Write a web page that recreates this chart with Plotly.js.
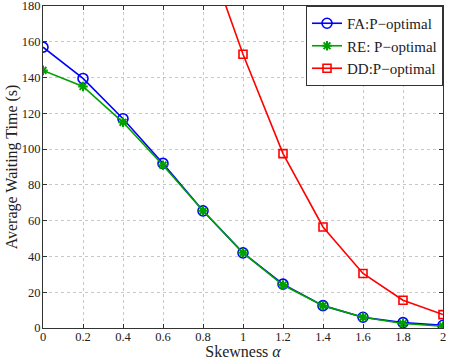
<!DOCTYPE html>
<html>
<head>
<meta charset="utf-8">
<script src="https://cdn.plot.ly/plotly-3.0.1.min.js"></script>
<style>
  html, body { margin: 0; padding: 0; background: #fff; }
  #chart { width: 450px; height: 360px; }
</style>
</head>
<body>
<div id="chart"></div>
<script>
// Skewness values on the x axis
const skew = [0, 0.2, 0.4, 0.6, 0.8, 1.0, 1.2, 1.4, 1.6, 1.8, 2.0];

// Average waiting time (s)
const faWait = [157, 139.5, 117, 92, 65.5, 42, 24.5, 12.5, 6, 3, 1.5];
const reWait = [144, 135, 115, 91, 65.5, 42, 24, 12.5, 6, 2.5, 1];

// DD only comes into view past x = 0.9, the 0.8 point is off the top
const ddSkew = [0.8, 1.0, 1.2, 1.4, 1.6, 1.8, 2.0];
const ddWait = [216, 153, 97.5, 56.5, 30.5, 15.5, 7.5];

const seriesNames = ['FA:P\u2212optimal', 'RE: P\u2212optimal', 'DD:P\u2212optimal'];

const xTicks = [0, 0.2, 0.4, 0.6, 0.8, 1, 1.2, 1.4, 1.6, 1.8, 2];
const yTicks = [0, 20, 40, 60, 80, 100, 120, 140, 160, 180];

const serif = '"Liberation Serif", "Times New Roman", serif';

const fa = {
    x: skew, y: faWait,
    type: 'scatter', mode: 'lines+markers',
    name: seriesNames[0],
    line: { color: '#0000ff', width: 1.6 },
    marker: { symbol: 'circle-open', size: 10, color: '#0000ff', line: { width: 1.6 } }
};

const re = {
    x: skew, y: reWait,
    type: 'scatter', mode: 'lines+markers',
    name: seriesNames[1],
    line: { color: '#00a000', width: 1.6 },
    marker: { symbol: 'asterisk-open', size: 8, color: '#00a000', line: { width: 2, color: '#00a000' } }
};

const dd = {
    x: ddSkew, y: ddWait,
    type: 'scatter', mode: 'lines+markers',
    name: seriesNames[2],
    line: { color: '#ff0000', width: 1.6 },
    marker: { symbol: 'square-open', size: 8, color: '#ff0000', line: { width: 1.6 } }
};

const axisCommon = {
    showline: true,
    linecolor: '#333',
    linewidth: 1,
    mirror: 'ticks',
    ticks: 'inside',
    ticklen: 4,
    tickcolor: '#333',
    showgrid: true,
    gridcolor: '#c8c8c8',
    griddash: 'dot',
    gridwidth: 1,
    zeroline: false,
    ticklabeloverflow: 'allow',
    tickfont: { family: serif, size: 12.5, color: '#222' }
};

const layout = {
    width: 450,
    height: 360,
    margin: { l: 43, r: 7, t: 6, b: 32 },
    paper_bgcolor: '#fff',
    plot_bgcolor: '#fff',
    font: { family: serif, color: '#222' },
    xaxis: Object.assign({}, axisCommon, {
        range: [0, 2],
        tickvals: xTicks,
        ticktext: xTicks.map(String),
        ticklabelstandoff: -3,
        title: { text: 'Skewness <i>\u03b1</i>', font: { family: serif, size: 16, color: '#222' }, standoff: 0 }
    }),
    yaxis: Object.assign({}, axisCommon, {
        range: [0, 180],
        tickvals: yTicks,
        ticklabelstandoff: -1,
        title: { text: 'Average Waiting Time (s)', font: { family: serif, size: 16, color: '#222' }, standoff: 0 }
    }),
    legend: {
        x: 1, y: 1,
        xanchor: 'right', yanchor: 'top',
        bgcolor: '#fff',
        bordercolor: '#333',
        borderwidth: 1,
        font: { family: serif, size: 15, color: '#222' },
        itemwidth: 30,
        tracegroupgap: 0
    },
    showlegend: true
};

Plotly.newPlot('chart', [fa, re, dd], layout, { displayModeBar: false, staticPlot: true });
</script>
</body>
</html>
